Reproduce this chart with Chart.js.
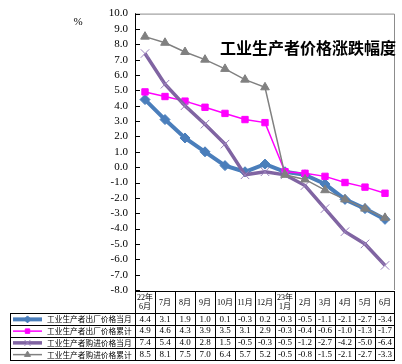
<!DOCTYPE html>
<html><head><meta charset="utf-8">
<script src="https://cdn.jsdelivr.net/npm/chart.js@4/dist/chart.umd.min.js"></script>
<style>html,body{margin:0;padding:0;background:#fff}#wrap{width:402px;height:364px}</style>
</head><body><div id="wrap"><canvas id="c" width="402" height="364"></canvas></div>
<script>
const categories = ['22年\n6月','7月','8月','9月','10月','11月','12月','23年\n1月','2月','3月','4月','5月','6月'];
const seriesNames = ['工业生产者出厂价格当月','工业生产者出厂价格累计','工业生产者购进价格当月','工业生产者购进价格累计'];
const ppiMonthly = [4.4,3.1,1.9,1.0,0.1,-0.3,0.2,-0.3,-0.5,-1.1,-2.1,-2.7,-3.4];
const ppiCumulative = [4.9,4.6,4.3,3.9,3.5,3.1,2.9,-0.3,-0.4,-0.6,-1.0,-1.3,-1.7];
const purchMonthly = [7.4,5.4,4.0,2.8,1.5,-0.5,-0.3,-0.5,-1.2,-2.7,-4.2,-5.0,-6.4];
const purchCumulative = [8.5,8.1,7.5,7.0,6.4,5.7,5.2,-0.5,-0.8,-1.5,-2.1,-2.7,-3.3];
const yMin = -8, yMax = 10, yStep = 1;
const chartTitle = '工业生产者价格涨跌幅度';
const unitLabel = '%';

const seriesData = [ppiMonthly, ppiCumulative, purchMonthly, purchCumulative];
const styles = [
  {borderColor:'#4A7EBB', backgroundColor:'#4A7EBB', pointBorderColor:'#4A7EBB', borderWidth:4, pointStyle:'rectRot', pointRadius:5, pointBorderWidth:1, tension:0, order:4},
  {borderColor:'#FF00FF', backgroundColor:'#FF00FF', pointBorderColor:'#FF00FF', borderWidth:1.5, pointStyle:'rect', pointRadius:4.5, pointBorderWidth:1, tension:0, order:3},
  {borderColor:'#8064A2', backgroundColor:'#9A80BD', pointBorderColor:'#9A80BD', borderWidth:3.5, pointStyle:'crossRot', pointRadius:6, pointBorderWidth:1, tension:0, order:2},
  {borderColor:'#808080', backgroundColor:'#808080', pointBorderColor:'#808080', borderWidth:1.5, pointStyle:'triangle', pointRadius:5, pointBorderWidth:1, tension:0, order:1}
];

const datasets = seriesNames.map((n,i)=>Object.assign({label:n, data:seriesData[i], fill:false, pointHoverRadius:5}, styles[i]));

const decor = {
  id:'decor',
  afterDraw(chart){
    const ctx = chart.ctx, ys = chart.scales.y, xs = chart.scales.x, a = chart.chartArea;
    const n = categories.length, w = (a.right - a.left)/n;
    ctx.save();
    ctx.strokeStyle = '#8c8c8c'; ctx.lineWidth = 1;
    ctx.beginPath(); ctx.moveTo(a.left, a.top+0.5); ctx.lineTo(a.right-0.5, a.top+0.5); ctx.lineTo(a.right-0.5, a.bottom); ctx.stroke();
    ctx.strokeStyle = '#000'; ctx.beginPath();
    ys.ticks.forEach(t=>{ const y = Math.round(ys.getPixelForValue(t.value))+0.5; ctx.moveTo(a.left, y); ctx.lineTo(a.left+5, y); });
    ctx.stroke();
    ctx.fillStyle = '#000';
    ctx.font = '11px "Liberation Serif"'; ctx.textAlign = 'center'; ctx.textBaseline = 'middle';
    ctx.fillText(unitLabel, 78, 22);
    ctx.font = 'bold 16px "Noto Sans CJK SC"';
    ctx.fillText(chartTitle, 308, 48);
    const top = 291, hdrB = 313, rowH = 11.75, bottom = hdrB + rowH*4, legL = 10;
    ctx.fillStyle = '#fff'; ctx.fillRect(a.left, top, a.right - a.left, bottom - top);
    ctx.fillRect(legL, hdrB, a.left - legL, bottom - hdrB);
    ctx.strokeStyle = '#000'; ctx.lineWidth = 1; ctx.beginPath();
    ctx.moveTo(a.left, top+0.5); ctx.lineTo(a.right, top+0.5);
    for (let r=0;r<=4;r++){ const y = Math.round(hdrB + r*rowH)+0.5; ctx.moveTo(legL, y); ctx.lineTo(a.right, y); }
    ctx.moveTo(legL+0.5, hdrB); ctx.lineTo(legL+0.5, bottom);
    for (let k=0;k<=n;k++){ const x = Math.round(a.left + k*w) + (k===n? -0.5:0.5); ctx.moveTo(x, top); ctx.lineTo(x, bottom+0.5); }
    ctx.stroke();
    ctx.fillStyle = '#000'; ctx.textAlign = 'center'; ctx.textBaseline = 'middle';
    ctx.font = '8px "Liberation Serif", "Noto Sans CJK SC"';
    categories.forEach((c,i)=>{
      const x = xs.getPixelForValue(i);
      const lines = c.split('\n');
      if (lines.length === 1) ctx.fillText(lines[0], x, (top+hdrB)/2+0.5);
      else { ctx.fillText(lines[0], x, top+6.5); ctx.fillText(lines[1], x, top+15.5); }
    });
    seriesNames.forEach((name,r)=>{
      const cy = hdrB + r*rowH + rowH/2 + 0.5;
      const st = styles[r];
      ctx.strokeStyle = st.borderColor; ctx.lineWidth = st.borderWidth;
      ctx.beginPath(); ctx.moveTo(13, cy); ctx.lineTo(42, cy); ctx.stroke();
      ctx.fillStyle = st.backgroundColor; ctx.strokeStyle = st.pointBorderColor; ctx.lineWidth = 1;
      Chart.helpers.drawPoint(ctx, {pointStyle: st.pointStyle, radius: st.pointRadius*0.7, borderWidth: 1, rotation: 0}, 27.5, cy);
      ctx.fillStyle = '#000';
      ctx.font = '7.7px "Noto Sans CJK SC"'; ctx.textAlign = 'left';
      ctx.fillText(name, 47, cy);
      ctx.font = '9px "Liberation Serif"'; ctx.textAlign = 'center';
      seriesData[r].forEach((v,i)=>{ ctx.fillText(v.toFixed(1), xs.getPixelForValue(i), cy); });
    });
    ctx.restore();
  }
};

new Chart(document.getElementById('c'), {
  type:'line',
  data:{ labels: categories, datasets },
  options:{
    responsive:false, animation:false, devicePixelRatio:1,
    layout:{ padding:{ top:11, right:2, bottom:74, left:0 } },
    plugins:{ legend:{display:false}, tooltip:{enabled:false}, title:{display:false} },
    scales:{
      x:{ type:'category', display:false, offset:true },
      y:{
        min:yMin, max:yMax,
        afterFit(s){ s.width = 135; },
        grid:{ display:false, drawTicks:false },
        border:{ display:true, color:'#000', width:1 },
        ticks:{ stepSize:yStep, autoSkip:false, maxTicksLimit:50, padding:7, color:'#000', font:{ family:'"Liberation Serif"', size:11 }, callback:v=>Number(v).toFixed(1) }
      }
    }
  },
  plugins:[decor]
});
</script></body></html>
